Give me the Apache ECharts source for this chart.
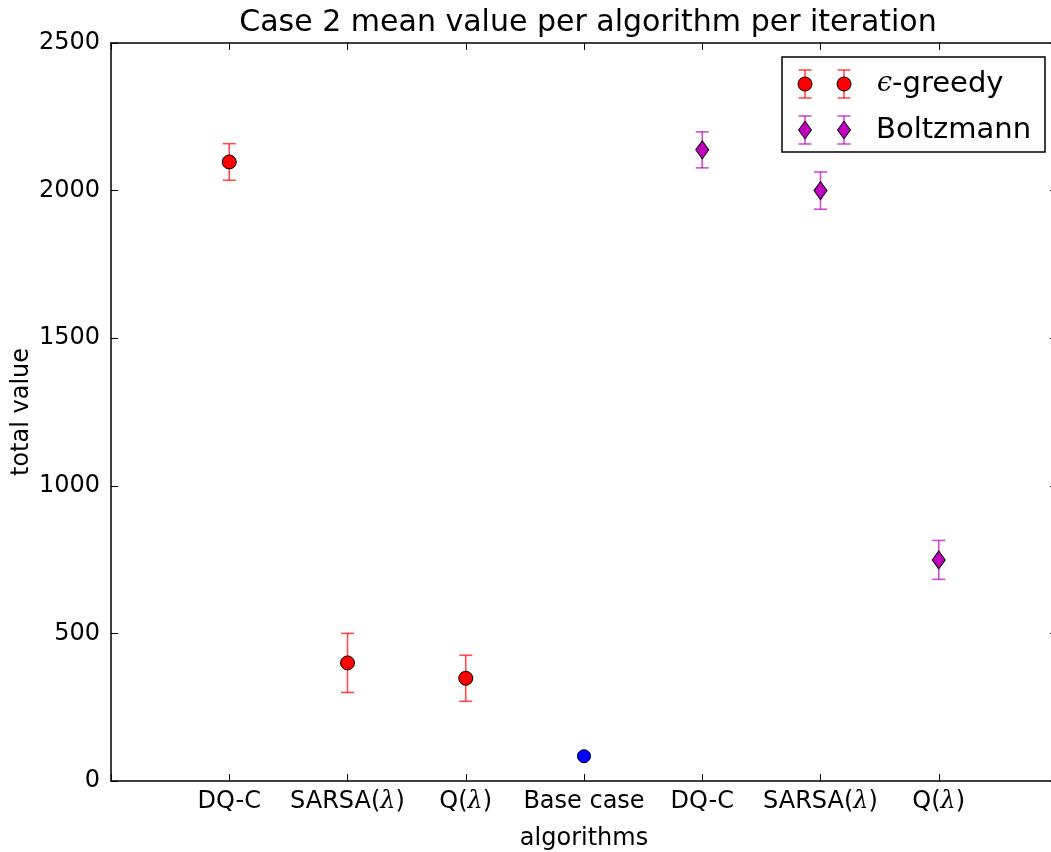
<!DOCTYPE html>
<html>
<head>
<meta charset="utf-8">
<script src="https://cdn.jsdelivr.net/npm/echarts@6/dist/echarts.min.js"></script>
<style>
  html, body { margin: 0; padding: 0; background: #fff; }
  #chart { width: 1051px; height: 852px; }
</style>
</head>
<body>
<div id="chart"></div>
<script>
// tick labels for x positions 1..7 ({l|..} marks the italic lambda)
const tickLabels = ['DQ-C', 'SARSA({l|λ})', 'Q({l|λ})', 'Base case', 'DQ-C', 'SARSA({l|λ})', 'Q({l|λ})']

// epsilon-greedy
const greedyX = [1, 2, 3]
const greedyMean = [2097, 400, 348]
const greedyErr = [62, 100, 78]

// Boltzmann
const boltzX = [5, 6, 7]
const boltzMean = [2138, 2000, 749]
const boltzErr = [61, 63, 66]

// base case
const baseX = [4]
const baseMean = [84]

const FONT = 'DejaVu Sans'
const chart = echarts.init(document.getElementById('chart'))

// error bars drawn through the axis scales
function errorBars(xs, means, errs, color) {
  return {
    type: 'custom',
    z: 1,
    silent: true,
    data: xs.map((x, i) => [x, means[i] - errs[i], means[i] + errs[i]]),
    renderItem: function (params, api) {
      const x = api.value(0)
      const lo = api.coord([x, api.value(1)])
      const hi = api.coord([x, api.value(2)])
      const w = 6.5
      const style = { stroke: color, lineWidth: 1.6 }
      return {
        type: 'group',
        children: [
          { type: 'line', shape: { x1: lo[0], y1: lo[1], x2: hi[0], y2: hi[1] }, style: style },
          { type: 'line', shape: { x1: hi[0] - w, y1: hi[1], x2: hi[0] + w, y2: hi[1] }, style: style },
          { type: 'line', shape: { x1: lo[0] - w, y1: lo[1], x2: lo[0] + w, y2: lo[1] }, style: style }
        ]
      }
    }
  }
}

const red = '#ff0000'
const redBar = 'rgba(255,0,0,0.7)'
const mag = '#bf00bf'
const magBar = 'rgba(191,0,191,0.7)'

// legend drawn by hand (two markers per entry, like matplotlib)
function legendMarker(x, y, kind) {
  const barColor = kind === 'circle' ? redBar : magBar
  const s = { stroke: barColor, lineWidth: 1.6 }
  const items = [
    { type: 'line', z: 11, shape: { x1: x, y1: y - 14, x2: x, y2: y + 14 }, style: s },
    { type: 'line', z: 11, shape: { x1: x - 6.5, y1: y - 14, x2: x + 6.5, y2: y - 14 }, style: s },
    { type: 'line', z: 11, shape: { x1: x - 6.5, y1: y + 14, x2: x + 6.5, y2: y + 14 }, style: s }
  ]
  if (kind === 'circle') {
    items.push({ type: 'circle', z: 12, shape: { cx: x, cy: y, r: 7 }, style: { fill: red, stroke: '#000', lineWidth: 1 } })
  } else {
    items.push({ type: 'polygon', z: 12, shape: { points: [[x, y - 9], [x + 6.5, y], [x, y + 9], [x - 6.5, y]] }, style: { fill: mag, stroke: '#000', lineWidth: 1 } })
  }
  return items
}

const legendGraphics = [
  { type: 'rect', z: 10, shape: { x: 782, y: 57, width: 263, height: 95 }, style: { fill: '#fff', stroke: '#000', lineWidth: 1.5 } }
].concat(
  legendMarker(805, 84, 'circle'), legendMarker(844, 84, 'circle'),
  legendMarker(805, 130, 'diamond'), legendMarker(844, 130, 'diamond'),
  [
    { type: 'text', z: 11, x: 877, y: 84, style: {
        text: '{e|ϵ}-greedy', fill: '#000', font: '29px ' + FONT, verticalAlign: 'middle',
        rich: { e: { fontFamily: 'DejaVu Serif', fontStyle: 'italic', fontSize: 27 } }
    } },
    { type: 'text', z: 11, x: 876, y: 130, style: {
        text: 'Boltzmann', fill: '#000', font: '29px ' + FONT, verticalAlign: 'middle'
    } }
  ]
)

const axisLineStyle = { show: true, onZero: false, lineStyle: { color: '#000', width: 1.5 } }
const tickStyle = { show: true, inside: true, length: 7, lineStyle: { color: '#000', width: 1 } }

const options = {
  backgroundColor: '#fff',
  animation: false,
  title: {
    text: 'Case 2 mean value per algorithm per iteration',
    left: 583,
    top: 3,
    textAlign: 'center',
    textStyle: { fontFamily: FONT, fontSize: 30, fontWeight: 'normal', color: '#000' }
  },
  grid: { left: 111, right: -6, top: 43, bottom: 71, outerBoundsMode: 'none', containLabel: false },
  xAxis: [
    {
      type: 'value', min: 0, max: 8, interval: 1, position: 'bottom',
      name: 'algorithms', nameLocation: 'middle', nameGap: 46, nameMoveOverlap: false,
      nameTextStyle: { fontFamily: FONT, fontSize: 24, color: '#000' },
      axisLine: axisLineStyle,
      axisTick: tickStyle,
      splitLine: { show: false },
      axisLabel: {
        fontFamily: FONT, fontSize: 24, color: '#000', margin: 9,
        formatter: v => (v >= 1 && v <= 7) ? tickLabels[v - 1] : '',
        rich: { l: { fontFamily: 'DejaVu Serif', fontStyle: 'italic', fontSize: 24, color: '#000' } }
      }
    },
    {
      type: 'value', min: 0, max: 8, interval: 1, position: 'top',
      axisLine: axisLineStyle, axisTick: tickStyle,
      splitLine: { show: false }, axisLabel: { show: false }
    }
  ],
  yAxis: [
    {
      type: 'value', min: 0, max: 2500, interval: 500, position: 'left',
      name: 'total value', nameLocation: 'middle', nameGap: 77, nameRotate: 90, nameMoveOverlap: false,
      nameTextStyle: { fontFamily: FONT, fontSize: 24, color: '#000' },
      axisLine: axisLineStyle, axisTick: tickStyle,
      splitLine: { show: false },
      axisLabel: { fontFamily: FONT, fontSize: 24, color: '#000', margin: 11, formatter: v => String(v) }
    },
    {
      type: 'value', min: 0, max: 2500, interval: 500, position: 'right',
      axisLine: axisLineStyle, axisTick: tickStyle,
      splitLine: { show: false }, axisLabel: { show: false }
    }
  ],
  graphic: legendGraphics,
  series: [
    errorBars(greedyX, greedyMean, greedyErr, redBar),
    errorBars(boltzX, boltzMean, boltzErr, magBar),
    {
      name: 'ε-greedy', type: 'scatter', z: 3, symbol: 'circle', symbolSize: 14,
      itemStyle: { color: red, borderColor: '#000', borderWidth: 1, opacity: 1 },
      data: greedyX.map((x, i) => [x, greedyMean[i]])
    },
    {
      name: 'Boltzmann', type: 'scatter', z: 3, symbol: 'diamond', symbolSize: [13, 18],
      itemStyle: { color: mag, borderColor: '#000', borderWidth: 1, opacity: 1 },
      data: boltzX.map((x, i) => [x, boltzMean[i]])
    },
    {
      name: 'Base case', type: 'scatter', z: 3, symbol: 'circle', symbolSize: 13,
      itemStyle: { color: '#0000ff', borderColor: '#000', borderWidth: 1, opacity: 1 },
      data: baseX.map((x, i) => [x, baseMean[i]])
    }
  ]
}

chart.setOption(options)
</script>
</body>
</html>
